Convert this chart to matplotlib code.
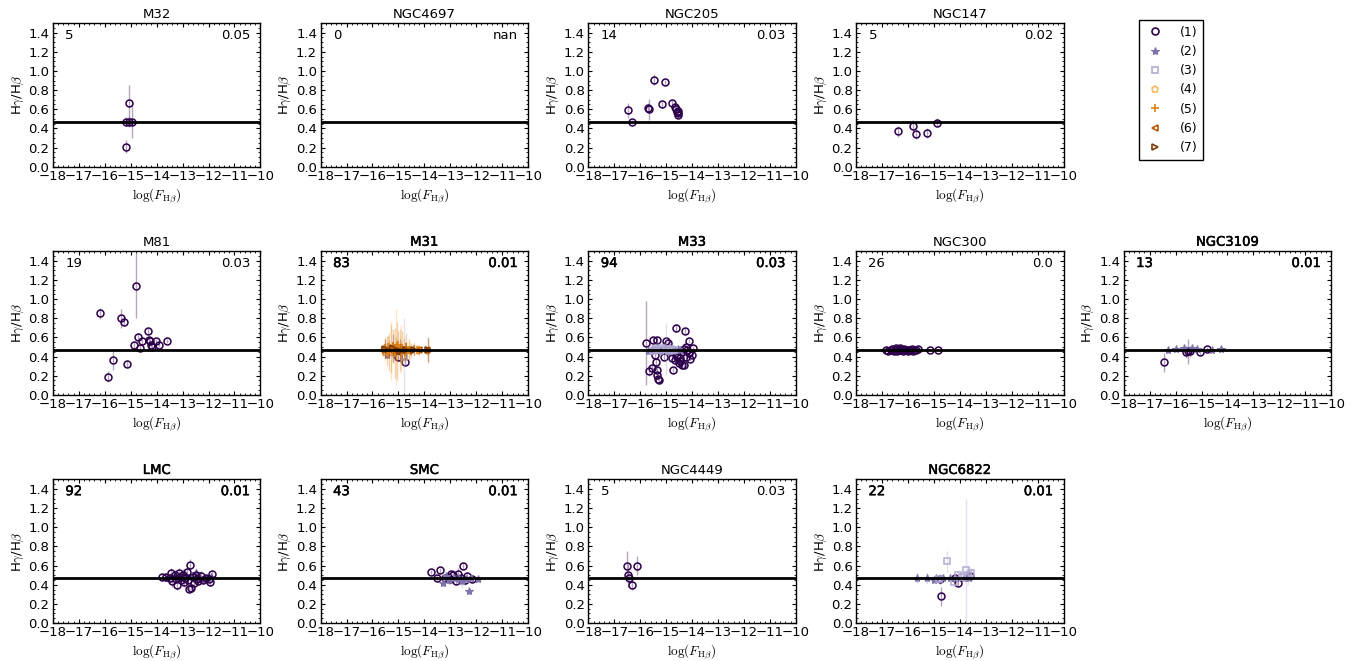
import matplotlib
matplotlib.use("Agg")
import matplotlib.pyplot as plt
import matplotlib.patheffects as pe
from matplotlib.lines import Line2D

plt.rcParams['font.family'] = ['DejaVu Sans']
plt.rcParams['mathtext.fontset'] = 'cm'
plt.rcParams['font.size'] = 9.5
plt.rcParams['xtick.direction'] = 'in'
plt.rcParams['ytick.direction'] = 'in'
plt.rcParams['xtick.top'] = True
plt.rcParams['ytick.right'] = True
plt.rcParams['xtick.minor.visible'] = True
plt.rcParams['ytick.minor.visible'] = True
plt.rcParams['xtick.major.size'] = 3
plt.rcParams['ytick.major.size'] = 3
plt.rcParams['xtick.minor.size'] = 1.5
plt.rcParams['ytick.minor.size'] = 1.5
plt.rcParams['xtick.major.pad'] = 2.5
plt.rcParams['ytick.major.pad'] = 2.5
plt.rcParams['axes.linewidth'] = 1.0

# panel order (row by row), None = empty slot
panel_names = ["M32", "NGC4697", "NGC205", "NGC147", None,
               "M81", "M31", "M33", "NGC300", "NGC3109",
               "LMC", "SMC", "NGC4449", "NGC6822", None]
n_counts = {"M32": "5", "NGC4697": "0", "NGC205": "14", "NGC147": "5",
            "M81": "19", "M31": "83", "M33": "94", "NGC300": "26",
            "NGC3109": "13", "LMC": "92", "SMC": "43", "NGC4449": "5",
            "NGC6822": "22"}
scatter_vals = {"M32": "0.05", "NGC4697": "nan", "NGC205": "0.03",
                "NGC147": "0.02", "M81": "0.03", "M31": "0.01", "M33": "0.03",
                "NGC300": "0.0", "NGC3109": "0.01", "LMC": "0.01",
                "SMC": "0.01", "NGC4449": "0.03", "NGC6822": "0.01"}
heavy_text = ["M31", "M33", "NGC3109", "LMC", "SMC", "NGC6822"]

theory_ratio = 0.47

group_labels = ["(1)", "(2)", "(3)", "(4)", "(5)", "(6)", "(7)"]
group_colors = ["#2d004b", "#8073ac", "#b2abd2", "#fdb863", "#e08214", "#b35806", "#7f3b08"]
group_markers = ["o", "*", "s", "p", "+", "<", ">"]

# (log F_Hbeta, Hgamma/Hbeta, error)
m32_g1 = [(-15.08, 0.67, 0.18), (-15.2, 0.47, 0.05), (-15.08, 0.47, 0.06),
          (-14.95, 0.47, 0.17), (-15.2, 0.21, 0.07)]

ngc205_g1 = [(-16.46, 0.59, 0.08), (-16.32, 0.47, 0.02), (-15.68, 0.61, 0.05),
             (-15.65, 0.60, 0.11), (-15.47, 0.91, 0.06), (-15.03, 0.88, 0.03),
             (-15.16, 0.65, 0.04), (-14.78, 0.665, 0.03), (-14.65, 0.62, 0.03),
             (-14.61, 0.60, 0.03), (-14.56, 0.58, 0.02), (-14.53, 0.56, 0.02),
             (-14.55, 0.54, 0.02), (-14.59, 0.575, 0.02)]

ngc147_g1 = [(-16.38, 0.37, 0.06), (-15.81, 0.42, 0.07), (-15.68, 0.34, 0.05),
             (-15.28, 0.35, 0.05), (-14.89, 0.46, 0.05)]

m81_g1 = [(-16.17, 0.85, 0.06), (-15.86, 0.19, 0.06), (-15.70, 0.36, 0.10),
          (-15.39, 0.80, 0.10), (-15.26, 0.76, 0.03), (-15.16, 0.32, 0.03),
          (-14.79, 1.14, 0.34), (-14.71, 0.60, 0.05), (-14.86, 0.52, 0.03),
          (-14.65, 0.49, 0.03), (-14.57, 0.56, 0.03), (-14.32, 0.67, 0.03),
          (-14.29, 0.575, 0.03), (-14.26, 0.56, 0.02), (-14.23, 0.52, 0.02),
          (-14.19, 0.50, 0.02), (-14.03, 0.56, 0.02), (-13.90, 0.52, 0.02),
          (-13.61, 0.565, 0.02)]

m31_g1 = [(-14.75, 0.34, 0.03), (-15.0, 0.40, 0.05)]
m31_g2 = [(-15.45, 0.42, 0.03), (-15.2, 0.45, 0.05)]
m31_g3 = [(-14.8, 0.40, 0.40)]
m31_g4 = [(-15.1, 0.50, 0.40), (-15.3, 0.46, 0.30), (-14.9, 0.48, 0.25),
          (-14.6, 0.47, 0.12), (-15.5, 0.45, 0.10)]
m31_g5 = [(-15.6, 0.47, 0.06), (-15.5, 0.49, 0.10), (-15.45, 0.46, 0.15),
          (-15.4, 0.50, 0.12), (-15.35, 0.45, 0.20), (-15.3, 0.48, 0.25),
          (-15.25, 0.47, 0.08), (-15.2, 0.51, 0.18), (-15.15, 0.44, 0.26),
          (-15.1, 0.48, 0.12), (-15.05, 0.46, 0.30), (-15.0, 0.52, 0.15),
          (-14.95, 0.47, 0.22), (-14.9, 0.45, 0.10), (-14.85, 0.49, 0.18),
          (-14.8, 0.47, 0.12), (-14.75, 0.44, 0.08), (-14.7, 0.50, 0.15),
          (-14.6, 0.47, 0.10), (-14.5, 0.46, 0.08), (-14.4, 0.48, 0.06),
          (-14.3, 0.47, 0.05), (-14.2, 0.47, 0.05), (-13.95, 0.47, 0.04),
          (-13.85, 0.46, 0.12)]
m31_g6 = [(-15.6, 0.47, 0.05), (-15.35, 0.48, 0.08), (-15.1, 0.46, 0.10),
          (-14.85, 0.47, 0.06), (-14.55, 0.47, 0.05), (-14.2, 0.47, 0.04),
          (-13.9, 0.47, 0.03)]
m31_g7 = [(-15.5, 0.48, 0.10), (-15.2, 0.49, 0.15), (-14.95, 0.46, 0.12),
          (-14.7, 0.47, 0.08), (-14.4, 0.47, 0.05), (-13.85, 0.47, 0.13)]

m33_g1 = [(-15.79, 0.54, 0.44), (-15.65, 0.25, 0.05), (-15.56, 0.28, 0.04),
          (-15.50, 0.575, 0.03), (-15.34, 0.575, 0.03), (-15.43, 0.42, 0.04),
          (-15.39, 0.34, 0.03), (-15.37, 0.26, 0.03), (-15.34, 0.21, 0.03),
          (-15.30, 0.17, 0.02), (-15.29, 0.15, 0.02), (-15.0, 0.565, 0.03),
          (-14.91, 0.54, 0.03), (-15.1, 0.40, 0.04), (-14.78, 0.39, 0.03),
          (-14.72, 0.26, 0.03), (-14.61, 0.70, 0.04), (-14.29, 0.67, 0.03),
          (-14.13, 0.565, 0.02), (-14.30, 0.31, 0.03), (-14.39, 0.31, 0.03),
          (-13.99, 0.42, 0.02), (-13.96, 0.49, 0.02), (-14.07, 0.37, 0.02),
          (-14.59, 0.42, 0.03), (-14.48, 0.38, 0.03), (-14.46, 0.35, 0.03),
          (-14.52, 0.33, 0.03), (-14.72, 0.45, 0.02), (-14.85, 0.46, 0.03),
          (-14.2, 0.47, 0.02), (-14.13, 0.435, 0.02), (-14.22, 0.505, 0.02),
          (-14.33, 0.48, 0.02), (-14.39, 0.445, 0.02), (-14.6, 0.40, 0.03),
          (-14.65, 0.36, 0.03), (-14.25, 0.40, 0.02), (-14.1, 0.45, 0.02)]
m33_g2 = [(-15.7, 0.46, 0.04), (-15.55, 0.48, 0.05), (-15.45, 0.47, 0.04),
          (-15.3, 0.49, 0.06), (-15.2, 0.46, 0.05), (-15.1, 0.48, 0.04),
          (-14.95, 0.47, 0.04), (-14.85, 0.49, 0.03), (-14.75, 0.46, 0.03),
          (-14.65, 0.47, 0.03), (-14.55, 0.48, 0.03), (-14.45, 0.47, 0.02)]
m33_g3 = [(-15.5, 0.46, 0.05), (-15.4, 0.48, 0.06), (-15.25, 0.47, 0.05),
          (-15.15, 0.49, 0.05), (-15.0, 0.475, 0.28), (-14.9, 0.46, 0.04),
          (-14.8, 0.48, 0.03), (-14.7, 0.47, 0.03)]

ngc300_g1 = [(-16.85, 0.47, 0.01), (-16.75, 0.46, 0.01), (-16.65, 0.47, 0.02),
             (-16.6, 0.48, 0.01), (-16.55, 0.46, 0.02), (-16.5, 0.47, 0.01),
             (-16.45, 0.49, 0.02), (-16.42, 0.46, 0.01), (-16.38, 0.48, 0.02),
             (-16.35, 0.47, 0.01), (-16.3, 0.49, 0.02), (-16.25, 0.47, 0.01),
             (-16.2, 0.46, 0.01), (-16.15, 0.48, 0.02), (-16.1, 0.47, 0.01),
             (-16.05, 0.47, 0.01), (-16.0, 0.46, 0.01), (-15.95, 0.47, 0.01),
             (-15.9, 0.47, 0.01), (-15.85, 0.48, 0.01), (-15.8, 0.46, 0.01),
             (-15.75, 0.47, 0.01), (-15.7, 0.47, 0.01), (-15.62, 0.48, 0.01),
             (-15.15, 0.47, 0.01), (-14.85, 0.47, 0.01)]

ngc3109_g1 = [(-16.43, 0.34, 0.10), (-15.58, 0.45, 0.06), (-15.53, 0.455, 0.13),
              (-15.43, 0.455, 0.06), (-15.07, 0.45, 0.03), (-14.78, 0.48, 0.02)]
ngc3109_g2 = [(-16.30, 0.47, 0.03), (-16.0, 0.48, 0.02), (-15.68, 0.485, 0.04),
              (-15.36, 0.485, 0.03), (-15.17, 0.48, 0.02), (-14.59, 0.47, 0.02),
              (-14.24, 0.48, 0.02)]

lmc_g1 = [(-13.78, 0.48, 0.03), (-13.65, 0.48, 0.04), (-13.5, 0.47, 0.05),
          (-13.45, 0.52, 0.05), (-13.4, 0.44, 0.06), (-13.3, 0.50, 0.05),
          (-13.25, 0.46, 0.04), (-13.2, 0.40, 0.05), (-13.15, 0.52, 0.06),
          (-13.1, 0.48, 0.05), (-13.05, 0.45, 0.04), (-13.0, 0.50, 0.06),
          (-12.95, 0.43, 0.05), (-12.9, 0.47, 0.04), (-12.85, 0.53, 0.05),
          (-12.8, 0.45, 0.05), (-12.75, 0.36, 0.04), (-12.7, 0.61, 0.06),
          (-12.68, 0.37, 0.04), (-12.6, 0.48, 0.05), (-12.55, 0.42, 0.05),
          (-12.5, 0.50, 0.06), (-12.45, 0.46, 0.05), (-12.4, 0.44, 0.04),
          (-12.3, 0.49, 0.05), (-12.2, 0.45, 0.04), (-12.1, 0.47, 0.04),
          (-12.0, 0.46, 0.03), (-11.95, 0.43, 0.04), (-11.85, 0.51, 0.03)]
lmc_g2 = [(-13.6, 0.47, 0.04), (-13.35, 0.48, 0.05), (-13.2, 0.49, 0.06),
          (-13.0, 0.47, 0.05), (-12.9, 0.50, 0.06), (-12.6, 0.48, 0.05),
          (-12.5, 0.52, 0.05), (-12.35, 0.47, 0.04), (-12.15, 0.46, 0.04),
          (-11.9, 0.48, 0.03)]

smc_g1 = [(-13.75, 0.53, 0.02), (-13.38, 0.55, 0.03), (-12.5, 0.60, 0.04),
          (-13.5, 0.47, 0.03), (-12.15, 0.46, 0.03), (-13.1, 0.48, 0.05),
          (-13.0, 0.46, 0.04), (-12.9, 0.50, 0.05), (-12.8, 0.44, 0.04),
          (-12.7, 0.51, 0.06), (-12.6, 0.47, 0.04), (-12.45, 0.45, 0.05),
          (-12.35, 0.49, 0.04), (-13.2, 0.47, 0.03), (-12.98, 0.51, 0.03)]
smc_g2 = [(-13.28, 0.42, 0.03), (-12.28, 0.33, 0.03), (-11.93, 0.46, 0.02),
          (-13.05, 0.45, 0.05), (-12.85, 0.47, 0.04), (-12.65, 0.46, 0.05),
          (-12.55, 0.44, 0.06), (-12.4, 0.46, 0.03), (-12.2, 0.47, 0.03),
          (-13.15, 0.49, 0.04)]

ngc4449_g1 = [(-16.52, 0.60, 0.15), (-16.13, 0.60, 0.10), (-16.48, 0.50, 0.12),
              (-16.32, 0.40, 0.06), (-16.45, 0.47, 0.05)]

ngc6822_g1 = [(-14.72, 0.28, 0.10), (-14.76, 0.46, 0.05), (-14.05, 0.42, 0.03),
              (-13.6, 0.49, 0.05), (-14.17, 0.47, 0.03)]
ngc6822_g2 = [(-15.63, 0.47, 0.05), (-15.28, 0.47, 0.05), (-14.98, 0.45, 0.03),
              (-14.93, 0.47, 0.03), (-14.65, 0.47, 0.02), (-14.37, 0.47, 0.03),
              (-14.2, 0.47, 0.03), (-13.85, 0.47, 0.03), (-13.66, 0.47, 0.02)]
ngc6822_g3 = [(-14.5, 0.645, 0.11), (-14.24, 0.43, 0.05), (-14.05, 0.50, 0.03),
              (-13.76, 0.55, 0.75), (-13.55, 0.52, 0.05), (-13.92, 0.48, 0.04),
              (-14.8, 0.46, 0.04), (-13.7, 0.50, 0.10)]

points = {
    "M32": {1: m32_g1},
    "NGC4697": {},
    "NGC205": {1: ngc205_g1},
    "NGC147": {1: ngc147_g1},
    "M81": {1: m81_g1},
    "M31": {1: m31_g1, 2: m31_g2, 3: m31_g3, 4: m31_g4, 5: m31_g5, 6: m31_g6, 7: m31_g7},
    "M33": {1: m33_g1, 2: m33_g2, 3: m33_g3},
    "NGC300": {1: ngc300_g1},
    "NGC3109": {1: ngc3109_g1, 2: ngc3109_g2},
    "LMC": {2: lmc_g2, 1: lmc_g1},
    "SMC": {1: smc_g1, 2: smc_g2},
    "NGC4449": {1: ngc4449_g1},
    "NGC6822": {1: ngc6822_g1, 2: ngc6822_g2, 3: ngc6822_g3},
}

fig, axes = plt.subplots(3, 5, figsize=(13.57, 6.61), dpi=100)
fig.subplots_adjust(left=0.039, right=0.981, top=0.965, bottom=0.0575,
                    wspace=0.29, hspace=0.59)

for ax, name in zip(axes.flat, panel_names):
    if name is None:
        ax.axis('off')
        continue
    for g, pts in points[name].items():
        c = group_colors[g - 1]
        m = group_markers[g - 1]
        xs = [p[0] for p in pts]
        ys = [p[1] for p in pts]
        es = [p[2] for p in pts]
        ax.errorbar(xs, ys, yerr=es, fmt='none', ecolor=c, alpha=0.35, lw=1)
        if m == '+':
            ax.plot(xs, ys, ls='none', marker=m, color=c, ms=6, mew=1.2)
        elif m == '*':
            ax.plot(xs, ys, ls='none', marker=m, color=c, ms=6, mew=0.8)
        else:
            ax.plot(xs, ys, ls='none', marker=m, mfc='none', mec=c, ms=5, mew=1.1)
    ax.axhline(theory_ratio, color='k', lw=2)
    ax.set_xlim(-18, -10)
    ax.set_ylim(0, 1.5)
    ax.set_xticks(range(-18, -9))
    ax.set_yticks([0.0, 0.2, 0.4, 0.6, 0.8, 1.0, 1.2, 1.4])
    ax.set_xlabel(r'$\log(F_{\rm H\beta})$', fontsize=9.5, labelpad=2)
    ax.set_ylabel(r'H$\gamma$/H$\beta$', fontsize=9.5, labelpad=2)
    fx = [pe.withStroke(linewidth=0.35, foreground='k')] if name in heavy_text else None
    ax.set_title(name, fontsize=9.5, pad=4, path_effects=fx)
    ax.text(0.06, 0.915, n_counts[name], transform=ax.transAxes, va='center',
            ha='left', fontsize=9.5, path_effects=fx)
    ax.text(0.95, 0.915, scatter_vals[name], transform=ax.transAxes, va='center',
            ha='right', fontsize=9.5, path_effects=fx)

handles = []
for lab, c, m in zip(group_labels, group_colors, group_markers):
    if m in ('+', '*'):
        h = Line2D([], [], ls='none', marker=m, color=c, ms=6, mew=1.2 if m == '+' else 0.8)
    else:
        h = Line2D([], [], ls='none', marker=m, mfc='none', mec=c, ms=5, mew=1.2)
    handles.append(h)
leg = fig.legend(handles, group_labels, loc='upper left',
                 bbox_to_anchor=(1139 / 1357, 1 - 20 / 661), fontsize=9,
                 frameon=True, fancybox=False, edgecolor='k', framealpha=1,
                 handlelength=1.6, handletextpad=1.2, labelspacing=0.5,
                 borderpad=0.45, borderaxespad=0, numpoints=1)
leg.get_frame().set_linewidth(1.0)

fig.savefig('out.png', dpi=100, facecolor='white')
